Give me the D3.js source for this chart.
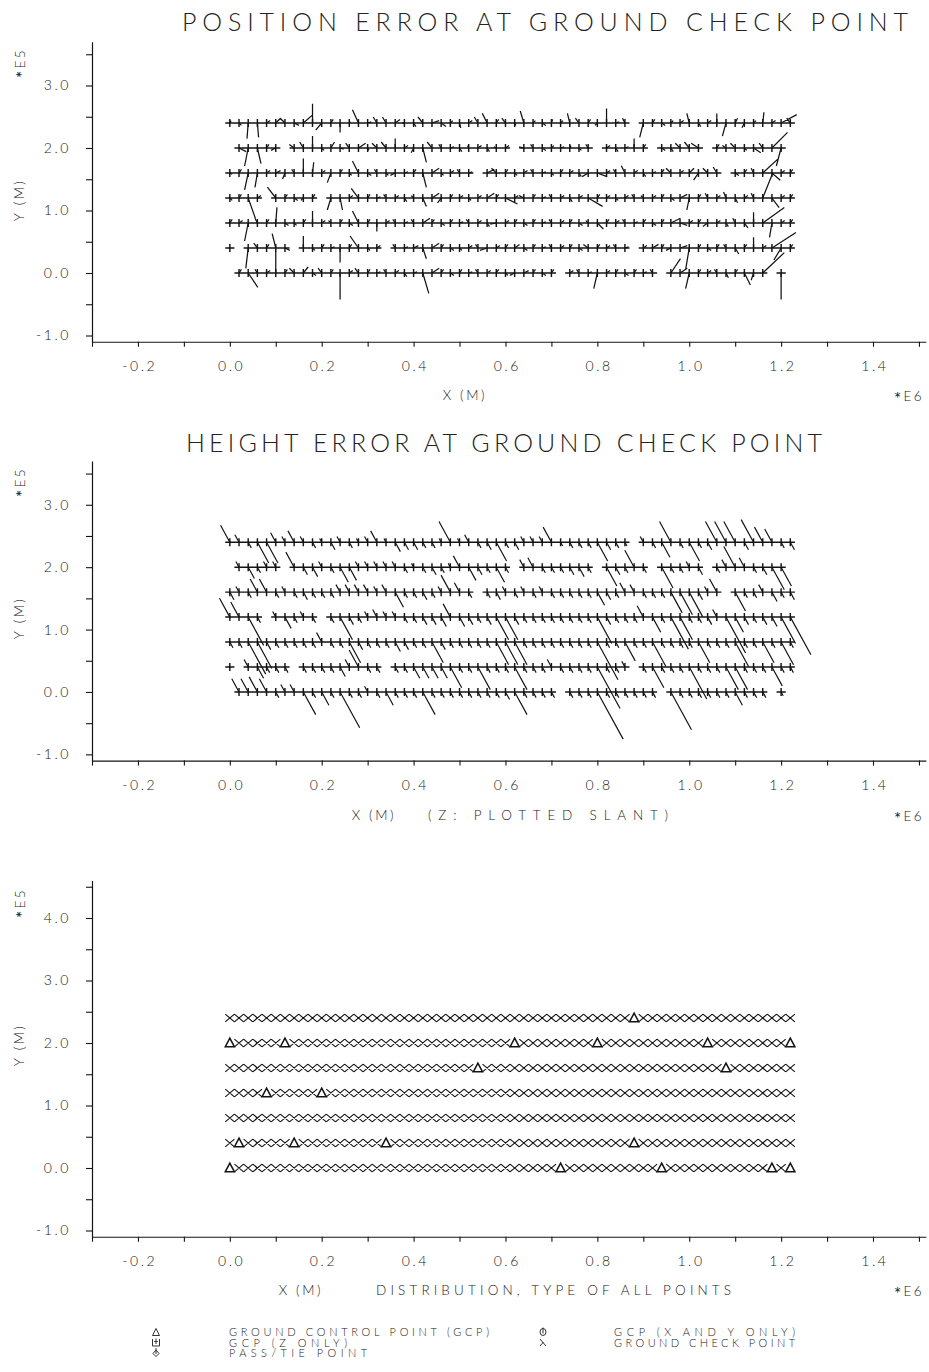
<!DOCTYPE html>
<html><head><meta charset="utf-8">
<script src="https://cdn.jsdelivr.net/npm/d3@7"></script>
<style>
body{margin:0;background:#fff}
svg{display:block}
text{font-family:Lato,"DejaVu Sans",sans-serif;font-weight:300;fill:#222}
</style>
</head><body>
<svg id="c" width="929" height="1372"></svg>
<script>
// ---------------- DATA ----------------
// grid of points (x in 1E6 m, y in 1E5 m)
const gridX = [0.00,0.02,0.04,0.06,0.08,0.10,0.12,0.14,0.16,0.18,0.20,0.22,0.24,0.26,0.28,0.30,0.32,0.34,0.36,0.38,
  0.40,0.42,0.44,0.46,0.48,0.50,0.52,0.54,0.56,0.58,0.60,0.62,0.64,0.66,0.68,0.70,0.72,0.74,0.76,0.78,
  0.80,0.82,0.84,0.86,0.88,0.90,0.92,0.94,0.96,0.98,1.00,1.02,1.04,1.06,1.08,1.10,1.12,1.14,1.16,1.18,1.20,1.22];
const rowY = [0.0,0.4,0.8,1.2,1.6,2.0,2.4];

// ground control points (x 1E6, y 1E5)
const gcpPoints = [
  [0.00,0.0],[0.72,0.0],[0.94,0.0],[1.18,0.0],[1.22,0.0],
  [0.02,0.4],[0.14,0.4],[0.34,0.4],[0.88,0.4],
  [0.08,1.2],[0.20,1.2],
  [0.54,1.6],[1.08,1.6],
  [0.00,2.0],[0.12,2.0],[0.62,2.0],[0.80,2.0],[1.04,2.0],[1.22,2.0],
  [0.88,2.4]
];

// position error at check points [dEast, dNorth] in m (null = GCP)
const posErr24 = [[0.5,1],[1,-1],[-0.5,-6.5],[0.5,-6],[1.5,1],[2,2],[-2,2],[2,-1],[4,3.5],[0,8],
 [-2.5,-3],[1,1.5],[0,-4],[0.5,0.5],[-2.5,5.5],[1.5,0.5],[-1.5,2.5],[-1.5,2.5],[2,1.5],[-1,0],
 [1,-1.5],[-2,2.5],[3,1],[2,-1.5],[1,1],[0.5,-2],[1.5,1],[-1.5,2.5],[-2,4],[1,1.5],
 [-1.5,2],[0.5,-1],[-1.5,5],[1,1],[1.5,-1],[0.5,1.5],[1,1],[-1,4],[-1.5,2],[1,1.5],
 [-1,-1],[0,6],[1.5,0.5],[-1,2],null,[-1.5,-6],[1,1.5],[1.5,-1],[1,1],[1.5,1],
 [-1,4],[1,-1.5],[1.5,1],[0,4],[-1.5,-5.5],[1,2],[-1,-2],[1,1],[0.5,4.5],[1.5,1],
 [6.5,3.5],[-1.5,2]];
const posErr20 = [null,[3,-1.5],[-1.5,-7.5],[1.5,-6.5],[1,1.5],[-2,-1],null,[-2,1.5],[-1.5,2.5],[0,5],
 [1,-1],[1.5,2.5],[1.5,-0.5],[-1.5,2],[3,2],[0.5,-1],[-2,2],[-2,2.5],[0,4],[1.5,1],
 [-1,-2],[1.5,-6],[-2,2.5],[-1,1.5],[1.5,0.5],[1,-1.5],[-0.5,1],[1.5,1],[1,-1.5],[-1,0.5],
 [1.5,1],null,[-2,0.5],[-1,1.5],[1.5,-1],[1,1],[1.5,0.5],[0.5,1],[1,-1],[-1,1.5],
 null,[1.5,1],[1,-1.5],[1.5,0.5],[0,4],[1,1.5],null,[1.5,-1],[1,-1.5],[-2,2],
 [-2,2.5],[-3,2],null,[1,1.5],[-1.5,1],[-2,2],[1,-1],[3,-2],[-1.5,2],[6.5,6.5],
 [-2,-7.5],null];
const posErr16 = [[1,-0.5],[1,1.5],[-1.5,-7],[-1,-6],[1.5,1],[2,1],[-1,-2.5],[-1,1.5],[0,6],[0.5,4.5],
 [1.5,1],[-1.5,-4],[1,1.5],[1,-1],[-2.5,5],[1.5,-1],[-1,1.5],[1,-1],[-2,-1],[1.5,0.5],
 [1,1.5],[1.5,-6],[3,2],[1,-1],[1.5,1],[-1,1.5],[1.5,0.5],null,[3,1.5],[-2,2],
 [1,1.5],[1,-1],[1.5,1],[-1,1.5],[1.5,0.5],[1,-1],[1,1.5],[1.5,1],[1,-1.5],[-2.5,-1.5],
 [4,-1.5],[1.5,1],[-1,1.5],[-1.5,3],[1.5,1],[1,-1.5],[1.5,0.5],[1,1.5],[-2,2],[1.5,1],
 [2,2],[-2,-3],[-2,2],[-1.5,2.5],null,[1.5,-1],[1,1.5],[-1,2],[6.5,6],[3.5,-3],
 [1.5,1],[1,1.5]];
const posErr12 = [[1,-1],[1,1.5],[3,-8.5],[1.5,1],null,[-3.5,4.5],[1,1.5],[1.5,-1],[-1,-1],[1,1.5],
 null,[-1.5,-5],[1,-5],[1.5,1],[-3,4],[1,1.5],[1.5,0.5],[-1,1.5],[1.5,1],[1,-1.5],
 [-1,1],[1.5,-3.5],[3,2],[-1.5,-2],[1,1.5],[1.5,1],[1,-1],[1.5,1],[3,2],[1,1.5],
 [5,-2.5],[1.5,1],[-2,1],[1,1.5],[1.5,0.5],[-1,1.5],[1.5,1],[1,-1.5],[1.5,1],[6,-3.5],
 [1,1.5],[1.5,1],[1,-1],[1.5,1],[-1,1.5],[-1,1],[1.5,1],[1,1.5],[1.5,-1],[3,1.5],
 [-1,-5],[1,1.5],[-1,2],[1.5,1],[-1,2.5],[1,-2],[1.5,1],[-1,2],[4,10],[3,-4],
 [1.5,1],[1,1.5]];
const posErr08 = [[1,1.5],[1.5,1],[-1.5,-7.5],[-1,2],[1,1.5],[0.5,6.5],[1.5,-1],[1,-1],[1,1.5],[0,5],
 [1.5,1],[-1,1],[1,1.5],[1.5,-1],[-2.5,5],[1,1.5],[0,-3.5],[1.5,1],[-1,1.5],[1.5,0.5],
 [-1,1.5],[3,2],[1,1.5],[1.5,-1],[1,1.5],[1.5,0.5],[-1,1.5],[1.5,1],[1,-1.5],[-2.5,-0.5],
 [1.5,1],[1,1.5],[1.5,-1],[1,1.5],[1.5,0.5],[-1,1.5],[1.5,1],[1,1.5],[1.5,-1],[-1,1],
 [2.5,-2.5],[1,1.5],[1.5,1],[-1,1.5],[1.5,0.5],[1,1.5],[1.5,-1],[1,1.5],[4,2],[3,-1],
 [1.5,1],[1,1.5],[-2,-1.5],[1.5,1],[1,-1.5],[-1,2],[1.5,-2],[0,4.5],[9,6.5],[-1,-6],
 [1.5,1],[1,1.5]];
const posErr04 = [[0,0],null,[-1,-8.5],[-1.5,2],[1,1.5],[-1.5,6],[2,-1],null,[0,5],[1,-1],
 [1,1.5],[1.5,0.5],[0,-6],[1,1.5],[-3.5,5],[1,-1],[1.5,1],null,[-1,1.5],[1.5,0.5],
 [2,1],[1.5,-4.5],[3,2],[1,1.5],[1.5,-1],[1,-1],[1.5,1],[-1,1.5],[-3,-1],[1.5,1],
 [1,1.5],[2,1.5],[1.5,-1],[1,1.5],[1.5,0.5],[-1,1.5],[1.5,1],[1,1.5],[1.5,-1],[-2,1.5],
 [1,1.5],[1.5,1],[-1,1.5],[1.5,0.5],null,[1.5,1],[2.5,1.5],[1,1.5],[-2,-1],[3,1],
 [-1.5,-9],[1,1.5],[1.5,-1],[1,1.5],[-1,1.5],[1.5,-2.5],[1,1.5],[0,4.5],[1.5,1],[10,6.5],
 [-3,-5],[1,1.5]];
const posErr00 = [null,[1,1.5],[4,-6],[-1,1.5],[1.5,1],[0,9],[1,1.5],[-2,2],[2,2.5],[1.5,-1],
 [-1.5,2],[1,1.5],[0,-11],[1.5,1],[-1.5,2],[1,1.5],[1.5,0.5],[-1,1.5],[1.5,1],[1,-1.5],
 [1.5,0.5],[2.5,-8.5],[3,2],[1,1.5],[1.5,-1],[1,1.5],[1.5,0.5],[-1,1.5],[1.5,1],[1,1.5],
 [1,-1],[-2,-1],[2,1],[1,1.5],[1.5,-1],[1,1.5],null,[1.5,1],[-1,1.5],[1.5,0.5],
 [-1.5,-6.5],[1.5,1],[1,1.5],[1.5,-1],[1,1.5],[1.5,0.5],[-1,1.5],null,[4,6],[3,2],
 [-1.5,-6.5],[1,1.5],[1.5,1],[-1,1.5],[1,-2],[1,1.5],[2.5,-5],[-1,-3],[9,8.5],null,
 [0,-11],null];

// height error at check points in m (positive = plotted up-left slant, null = GCP)
const hgtErr24 = [9,4,-3,-11,-11,5,3,6,3,-3, 2,-4,3,-3,2,3,6,2,-5,-4, -4,-3,-3,2,11,2,4,-3,-4,-10,
 -3,-4,3,3,3,8,-2,-3,-3,-3, -10,-4,-3,-2,null,3,-3,-8,11,-3, -10,-3,-4,11,11,11,-4,12,8,7, -3,-4];
const hgtErr20 = [null,3,-6,-3,3,3,null,8,-4,-5, 3,-3,-8,-7,3,3,3,3,3,-3, 2,-3,-4,-3,2,6,-7,-4,-3,-8,
 -3,null,4,5,-3,-3,-3,-4,-5,-3, null,-10,-4,-3,9,-3,null,-11,-3,-3, 3,-4,null,-3,4,11,5,-3,-4,-12, -10,null];
const hgtErr16 = [-4,3,-3,7,7,-3,3,-3,-4,-3, -3,-3,4,4,4,4,3,4,-8,-3, -3,-4,-3,3,9,5,-3,null,-3,-4,
 3,-3,3,-3,3,-3,-3,-3,-3,-3, -7,-4,-3,5,4,-3,-3,-3,-11,-12, -13,-4,3,7,null,-10,-3,-3,4,-5, -3,-4];
const hgtErr12 = [10,8,-15,-3,null,3,-6,-3,3,-3, null,-3,-12,-4,-3,3,4,3,3,-3, -3,-4,-4,-5,7,-5,-4,-3,-4,-12,
 -12,-4,-3,-3,-3,-3,-3,-3,-3,-3, -14,-4,-3,-3,-3,6,-8,-3,-17,-12, -3,-3,-4,4,-19,-8,-4,-3,-4,-5, -14,-20];
const hgtErr08 = [-3,-3,-17,-14,-4,-3,-3,-3,-3,-3, 5,-3,-3,-11,-4,-3,-3,-3,-5,-4, -3,-3,-11,-4,-3,-3,-3,-3,-3,-12,
 -12,-12,-3,-3,-3,-3,-3,-3,-3,-3, -20,-3,-3,-10,-3,-3,-13,-3,-3,-3, -3,-11,-3,-3,-3,-13,-3,-3,-11,-3, -12,-3];
const hgtErr04 = [0,null,4,-6,-3,-3,-3,null,-3,-3, -3,-3,-5,4,9,-3,-3,null,-3,-3, -6,-6,-6,-6,-11,-3,-3,-12,-3,-3,
 -3,-12,-3,-3,-3,4,-3,-3,-3,-3, -22,-3,-3,3,null,-3,-11,-3,-3,-3, -17,-3,-3,-3,-12,-12,-3,-3,-3,-10, -3,-3];
const hgtErr00 = [null,7,7,8,7,-3,4,4,-12,-3, -7,-3,-19,-3,-3,3,-3,-7,-3,-3, -3,-12,-3,-3,-3,-3,-3,-3,-3,-3,
 -4,-12,-3,-3,-3,-3,null,-3,-3,-3, -25,-3,-3,-3,-3,-3,-3,null,-20,-3, -3,-3,-3,-3,-3,-7,-3,-3,-3,null, -2,null];

const posErrRows = [posErr00,posErr04,posErr08,posErr12,posErr16,posErr20,posErr24];
const hgtErrRows = [hgtErr00,hgtErr04,hgtErr08,hgtErr12,hgtErr16,hgtErr20,hgtErr24];

// axis ticks
const xTickValues = [-0.3,-0.2,-0.1,0.0,0.1,0.2,0.3,0.4,0.5,0.6,0.7,0.8,0.9,1.0,1.1,1.2,1.3,1.4,1.5];
const xLabelValues = [-0.2,0.0,0.2,0.4,0.6,0.8,1.0,1.2,1.4];
const xLabelTexts = ["-0.2","0.0","0.2","0.4","0.6","0.8","1.0","1.2","1.4"];
const yTickValuesA = [-1.0,-0.5,0.0,0.5,1.0,1.5,2.0,2.5,3.0,3.5];
const yLabelValuesA = [-1.0,0.0,1.0,2.0,3.0];
const yLabelTextsA = ["-1.0","0.0","1.0","2.0","3.0"];
const yTickValuesC = [-1.0,-0.5,0.0,0.5,1.0,1.5,2.0,2.5,3.0,3.5,4.0,4.5];
const yLabelValuesC = [-1.0,0.0,1.0,2.0,3.0,4.0];
const yLabelTextsC = ["-1.0","0.0","1.0","2.0","3.0","4.0"];

const legendLeft = [["tri","GROUND CONTROL POINT (GCP)"],["zbox","GCP (Z ONLY)"],["pass","PASS/TIE POINT"]];
const legendRight = [["xy","GCP (X AND Y ONLY)"],["chk","GROUND CHECK POINT"]];

// ---------------- DRAWING ----------------
const ink = "#141414";
const svg = d3.select("#c");

const x = d3.scaleLinear().domain([-0.3,1.4]).range([92,873]);
const xAxisEnd = 1.515;
const vecPx = d3.scaleLinear().domain([0,1]).range([0,2.4]);    // position error m -> px
const slantPx = d3.scaleLinear().domain([0,1]).range([0,2.15]); // height error m -> px
const slant = [-0.48,-0.877];

const isGcp = (gx,gy) => gcpPoints.some(p => Math.abs(p[0]-gx)<1e-9 && Math.abs(p[1]-gy)<1e-9);

function styleTicks(gg){
  gg.select(".domain").attr("stroke",ink).attr("stroke-width",1.2);
  gg.selectAll(".tick line").attr("stroke",ink).attr("stroke-width",1.1);
  gg.selectAll("text").attr("font-size",14).attr("letter-spacing","2.6px").attr("fill","#1e1e1e")
    .attr("font-family","Lato, DejaVu Sans, sans-serif").attr("font-weight",300);
}
function yAxis(g, y, tickVals, labVals, labTxt){
  const ax = d3.axisLeft(y.copy()).tickValues(tickVals).tickSize(6).tickSizeOuter(0).tickPadding(15)
     .tickFormat(v => { const k = labVals.findIndex(l => Math.abs(l-v)<1e-9); return k<0 ? "" : labTxt[k]; });
  const gg = g.append("g").attr("transform",`translate(${x(-0.3)},0)`).call(ax);
  styleTicks(gg);
}
function xAxis(g, yPix){
  const s = x.copy().domain([-0.3,xAxisEnd]).range([x(-0.3),x(xAxisEnd)]);
  const ax = d3.axisBottom(s).tickValues(xTickValues).tickSize(5).tickSizeOuter(0).tickPadding(14)
     .tickFormat(v => { const k = xLabelValues.findIndex(l => Math.abs(l-v)<1e-9); return k<0 ? "" : xLabelTexts[k]; });
  const gg = g.append("g").attr("transform",`translate(0,${yPix})`).call(ax);
  styleTicks(gg);
  gg.selectAll("text").attr("dx","1.3px");
}
// exponent label with a large centred asterisk, e.g. "*E5"
function expLabel(sel, rest){
  sel.append("tspan").attr("font-size",17).attr("dy","0.3em").attr("font-weight",400).text("*");
  sel.append("tspan").attr("dy","-0.3em").text(rest);
}
function rotExp(g, cx, cy, rest, fs){
  const t = g.append("text").attr("transform",`translate(${cx},${cy}) rotate(-90)`)
   .attr("text-anchor","middle").attr("font-size",fs).attr("letter-spacing","2.4px");
  expLabel(t, rest);
}
function rotLabel(g, cx, cy, txt, fs){
  g.append("text").attr("transform",`translate(${cx},${cy}) rotate(-90)`)
   .attr("text-anchor","middle").attr("font-size",fs).attr("letter-spacing","2.4px").text(txt);
}
function txt(g, tx, ty, s, fs, len, anchor){
  const t = g.append("text").attr("x",tx).attr("y",ty).attr("font-size",fs).text(s);
  if(len){ t.attr("textLength",len).attr("lengthAdjust","spacing"); }
  else t.attr("letter-spacing","2.6px");
  if(anchor) t.attr("text-anchor",anchor);
  return t;
}
function xExp(g, tx, ty, rest){
  const t = g.append("text").attr("x",tx).attr("y",ty).attr("font-size",13.5)
    .attr("letter-spacing","2.4px").attr("text-anchor","middle");
  expLabel(t, rest);
}
function crosses(g, pts, y){
  g.append("path").attr("fill","none").attr("stroke",ink).attr("stroke-width",1.45)
   .attr("d", pts.map(p => {const px=x(p.gx), py=y(p.ry);
      return `M${px-4.6},${py}H${px+4.6}M${px},${py-4}V${py+4}`;}).join(""));
}

// ---- Panel 1: position error ----
{
  const g = svg.append("g");
  const y = d3.scaleLinear().domain([-1.1,3.7]).range([341.75,41.75]);
  txt(g,182,31,"POSITION ERROR AT GROUND CHECK POINT",25,726);
  yAxis(g,y,yTickValuesA,yLabelValuesA,yLabelTextsA);
  xAxis(g,y(-1.1));
  rotExp(g,24,63,"E5",13.5);
  rotLabel(g,24,200,"Y (M)",13.5);
  txt(g,465,400,"X (M)",13.5,null,"middle");
  xExp(g,909,400,"E6");
  const pts = [];
  rowY.forEach((ry,ri) => gridX.forEach((gx,gi) => {
    const e = posErrRows[ri][gi];
    if(e && !isGcp(gx,ry)) pts.push({gx,ry,e});
  }));
  crosses(g,pts,y);
  g.append("path").attr("fill","none").attr("stroke",ink).attr("stroke-width",1.25)
   .attr("d", pts.map(p => {const px=x(p.gx), py=y(p.ry);
      return `M${px},${py}L${px+vecPx(p.e[0])},${py-vecPx(p.e[1])}`;}).join(""));
}

// ---- Panel 2: height error ----
{
  const g = svg.append("g");
  const y = d3.scaleLinear().domain([-1.1,3.7]).range([760.6,461.1]);
  txt(g,186,452,"HEIGHT ERROR AT GROUND CHECK POINT",25,636);
  yAxis(g,y,yTickValuesA,yLabelValuesA,yLabelTextsA);
  xAxis(g,y(-1.1));
  rotExp(g,24,482,"E5",13.5);
  rotLabel(g,24,618,"Y (M)",13.5);
  txt(g,374,820,"X (M)",13.5,null,"middle");
  txt(g,428,820,"(Z: PLOTTED SLANT)",13.5,240);
  xExp(g,909,820,"E6");
  const pts = [];
  rowY.forEach((ry,ri) => gridX.forEach((gx,gi) => {
    const e = hgtErrRows[ri][gi];
    if(e !== null && !isGcp(gx,ry)) pts.push({gx,ry,e});
  }));
  crosses(g,pts,y);
  g.append("path").attr("fill","none").attr("stroke",ink).attr("stroke-width",1.2)
   .attr("d", pts.map(p => {const px=x(p.gx), py=y(p.ry), L=slantPx(p.e);
      return `M${px},${py}L${px+slant[0]*L},${py+slant[1]*L}`;}).join(""));
}

// ---- Panel 3: distribution ----
{
  const g = svg.append("g");
  const y = d3.scaleLinear().domain([-1.1,4.6]).range([1236.75,880.5]);
  yAxis(g,y,yTickValuesC,yLabelValuesC,yLabelTextsC);
  xAxis(g,y(-1.1));
  rotExp(g,24,903,"E5",13.5);
  rotLabel(g,24,1045,"Y (M)",13.5);
  txt(g,301,1295,"X (M)",13.5,null,"middle");
  txt(g,376,1295,"DISTRIBUTION, TYPE OF ALL POINTS",13.5,355);
  xExp(g,909,1295,"E6");
  let dx="", dt="";
  rowY.forEach(ry => gridX.forEach(gx => {
    const px=x(gx), py=y(ry);
    if(isGcp(gx,ry)) dt += `M${px-4.6},${py+3.8}L${px},${py-4.8}L${px+4.6},${py+3.8}Z`;
    else dx += `M${px-4.6},${py-3.9}L${px+4.6},${py+3.9}M${px-4.6},${py+3.9}L${px+4.6},${py-3.9}`;
  }));
  g.append("path").attr("fill","none").attr("stroke",ink).attr("stroke-width",1.15).attr("d",dx);
  g.append("path").attr("fill","none").attr("stroke",ink).attr("stroke-width",1.5).attr("d",dt);
}

// ---- Legend ----
{
  const g = svg.append("g");
  const sym = (kind,cx,cy) => {
    let d="";
    if(kind==="tri") d=`M${cx-3.5},${cy+3.5}L${cx},${cy-3.5}L${cx+3.5},${cy+3.5}Z`;
    if(kind==="zbox") d=`M${cx-3.5},${cy-3.5}V${cy+3.5}H${cx+3.5}V${cy-3.5}M${cx},${cy-4}V${cy+1.5}M${cx-1.8},${cy-1}H${cx+1.8}`;
    if(kind==="pass") d=`M${cx},${cy-3}L${cx+3},${cy+0.5}L${cx},${cy+3.5}L${cx-3},${cy+0.5}ZM${cx},${cy-5}V${cy+1}`;
    if(kind==="xy") d=`M${cx-3},${cy}a3,3.5 0 1,0 6,0a3,3.5 0 1,0 -6,0M${cx},${cy-4.5}V${cy+1.5}`;
    if(kind==="chk") d=`M${cx-3},${cy-3.5}L${cx+3},${cy+3.5}M${cx-3},${cy+3.5}L${cx+0.5},${cy-0.5}`;
    g.append("path").attr("d",d).attr("fill","none").attr("stroke","#333").attr("stroke-width",1);
  };
  const rowsY = [1332,1342.5,1353];
  const lenL = [260,118,138], lenR = [181,181];
  legendLeft.forEach((d,i) => { sym(d[0],156,rowsY[i]); txt(g,229,rowsY[i]+4,d[1],11,lenL[i]).attr("fill","#3a3a3a").attr("font-weight",400); });
  legendRight.forEach((d,i) => { sym(d[0],543,rowsY[i]); txt(g,614,rowsY[i]+4,d[1],11,lenR[i]).attr("fill","#3a3a3a").attr("font-weight",400); });
}
</script>
</body></html>
